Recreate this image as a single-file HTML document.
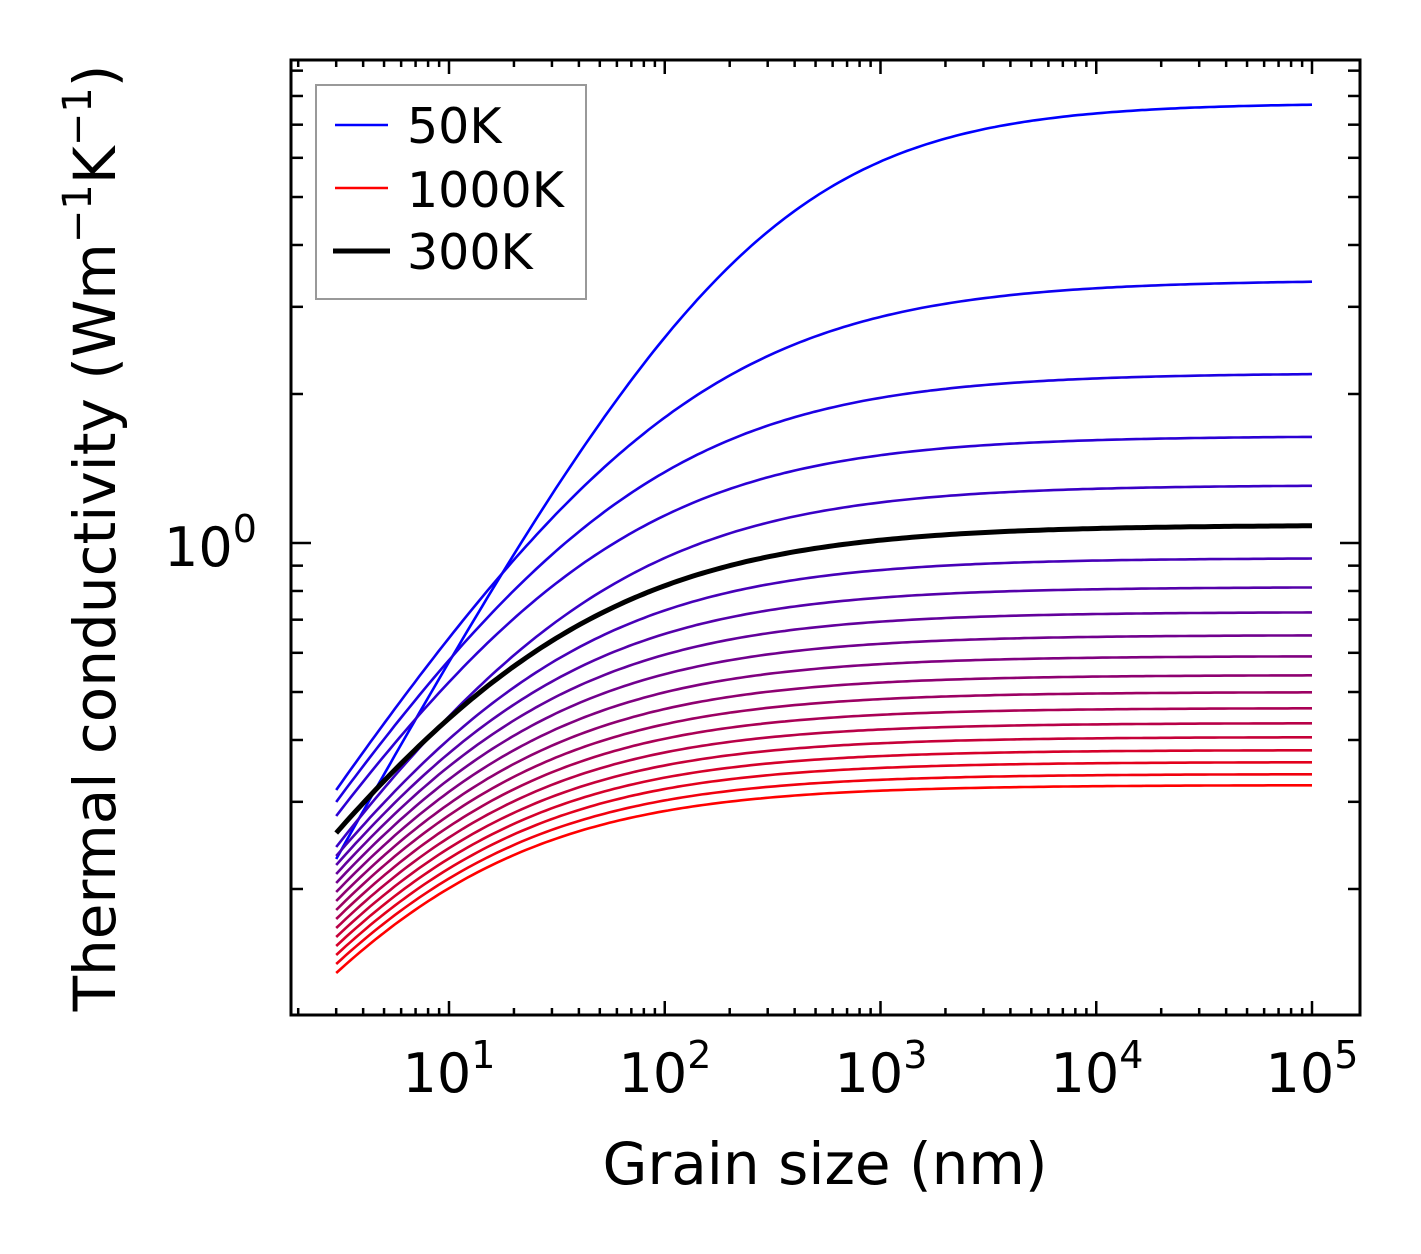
<!DOCTYPE html>
<html><head><meta charset="utf-8"><style>
html,body{margin:0;padding:0;background:#fff}
svg{display:block}
text{font-family:"DejaVu Sans","Liberation Sans",sans-serif;fill:#000}
</style></head><body>
<svg id="s" width="1421" height="1254" xmlns="http://www.w3.org/2000/svg">
<rect width="1421" height="1254" fill="#fff"/>
<g id="curves"></g>
<g id="ticks" stroke="#000" stroke-width="2.5"></g>
<rect x="291" y="60" width="1069" height="955" fill="none" stroke="#000" stroke-width="3"/>
<text x="449" y="1092" font-size="54" text-anchor="middle">10<tspan font-size="38" dy="-24">1</tspan></text>
<text x="665" y="1092" font-size="54" text-anchor="middle">10<tspan font-size="38" dy="-24">2</tspan></text>
<text x="881" y="1092" font-size="54" text-anchor="middle">10<tspan font-size="38" dy="-24">3</tspan></text>
<text x="1097" y="1092" font-size="54" text-anchor="middle">10<tspan font-size="38" dy="-24">4</tspan></text>
<text x="1312" y="1092" font-size="54" text-anchor="middle">10<tspan font-size="38" dy="-24">5</tspan></text>
<text x="164" y="566" font-size="54">10<tspan font-size="38" dy="-24">0</tspan></text>
<text x="825" y="1184" font-size="58" text-anchor="middle">Grain size (nm)</text>
<text transform="translate(115,538) rotate(-90)" font-size="58" text-anchor="middle">Thermal conductivity (Wm<tspan font-size="40" dy="-24">−1</tspan><tspan dy="24">K</tspan><tspan font-size="40" dy="-24">−1</tspan><tspan dy="24">)</tspan></text>
<rect x="316" y="85" width="270" height="214" fill="#fff" stroke="#999" stroke-width="2"/>
<line x1="335" y1="125" x2="388" y2="125" stroke="#00f" stroke-width="2.6"/>
<line x1="335" y1="188" x2="388" y2="188" stroke="#f00" stroke-width="2.6"/>
<line x1="333" y1="251" x2="390" y2="251" stroke="#000" stroke-width="5"/>
<text x="407" y="143" font-size="49">50K</text>
<text x="407" y="207" font-size="49">1000K</text>
<text x="407" y="269" font-size="49">300K</text>
</svg>
<script>
var NS="http://www.w3.org/2000/svg";
function X(L){return 449+215.75*(Math.log10(L)-1);}
function Y(v){return 543-495*Math.log10(v);}
function kv(y){return Math.pow(10,(543-y)/495);}
var cg=document.getElementById("curves");
function curve(kinf,k3,p,color,w){
 var r=k3/kinf, L0=3*Math.pow(1/r-1,1/p), d="";
 for(var i=0;i<=200;i++){var lg=Math.log10(3)+i*(5-Math.log10(3))/200;var L=Math.pow(10,lg);
  var k=kinf/(1+Math.pow(L0/L,p));d+=(i?"L":"M")+X(L).toFixed(1)+","+Y(k).toFixed(1);}
 var e=document.createElementNS(NS,"path");e.setAttribute("d",d);e.setAttribute("fill","none");
 e.setAttribute("stroke",color);e.setAttribute("stroke-width",w);cg.appendChild(e);
}
var ends=[103,280,373,436,485,558,587,612,635,656,675,692,708,723,737,750,762,774,785];
var starts=[859,790,802,816,847,860,872,884,896,907,917,926,935,943,952,959,966,970,973];
for(var i=0;i<19;i++){
 var t=i/18, c="rgb("+Math.round(255*t)+",0,"+Math.round(255*(1-t))+")";
 var s=starts[i]; if(i>=4) s=847+(i-4)*(973-847)/14;
 curve(kv(ends[i]),kv(s),i==0?0.8:0.68,c,2.6);
}
curve(kv(525),kv(833),0.65,"#000",5);
var tg=document.getElementById("ticks");
function ln(x1,y1,x2,y2){var e=document.createElementNS(NS,"line");e.setAttribute("x1",x1);e.setAttribute("y1",y1);e.setAttribute("x2",x2);e.setAttribute("y2",y2);tg.appendChild(e);}
for(var dec=0;dec<=5;dec++){for(var m=1;m<10;m++){var x=X(m*Math.pow(10,dec));if(x<292||x>1359)continue;var len=m==1?14:7;ln(x,1015,x,1015-len);ln(x,60,x,60+len);}}
for(var dec=-1;dec<=0;dec++){for(var m=1;m<10;m++){var y=Y(m*Math.pow(10,dec));if(y<61||y>1014)continue;var len=m==1?20:12;ln(291,y,291+len,y);ln(1360,y,1360-len,y);}}
</script>
</body></html>
